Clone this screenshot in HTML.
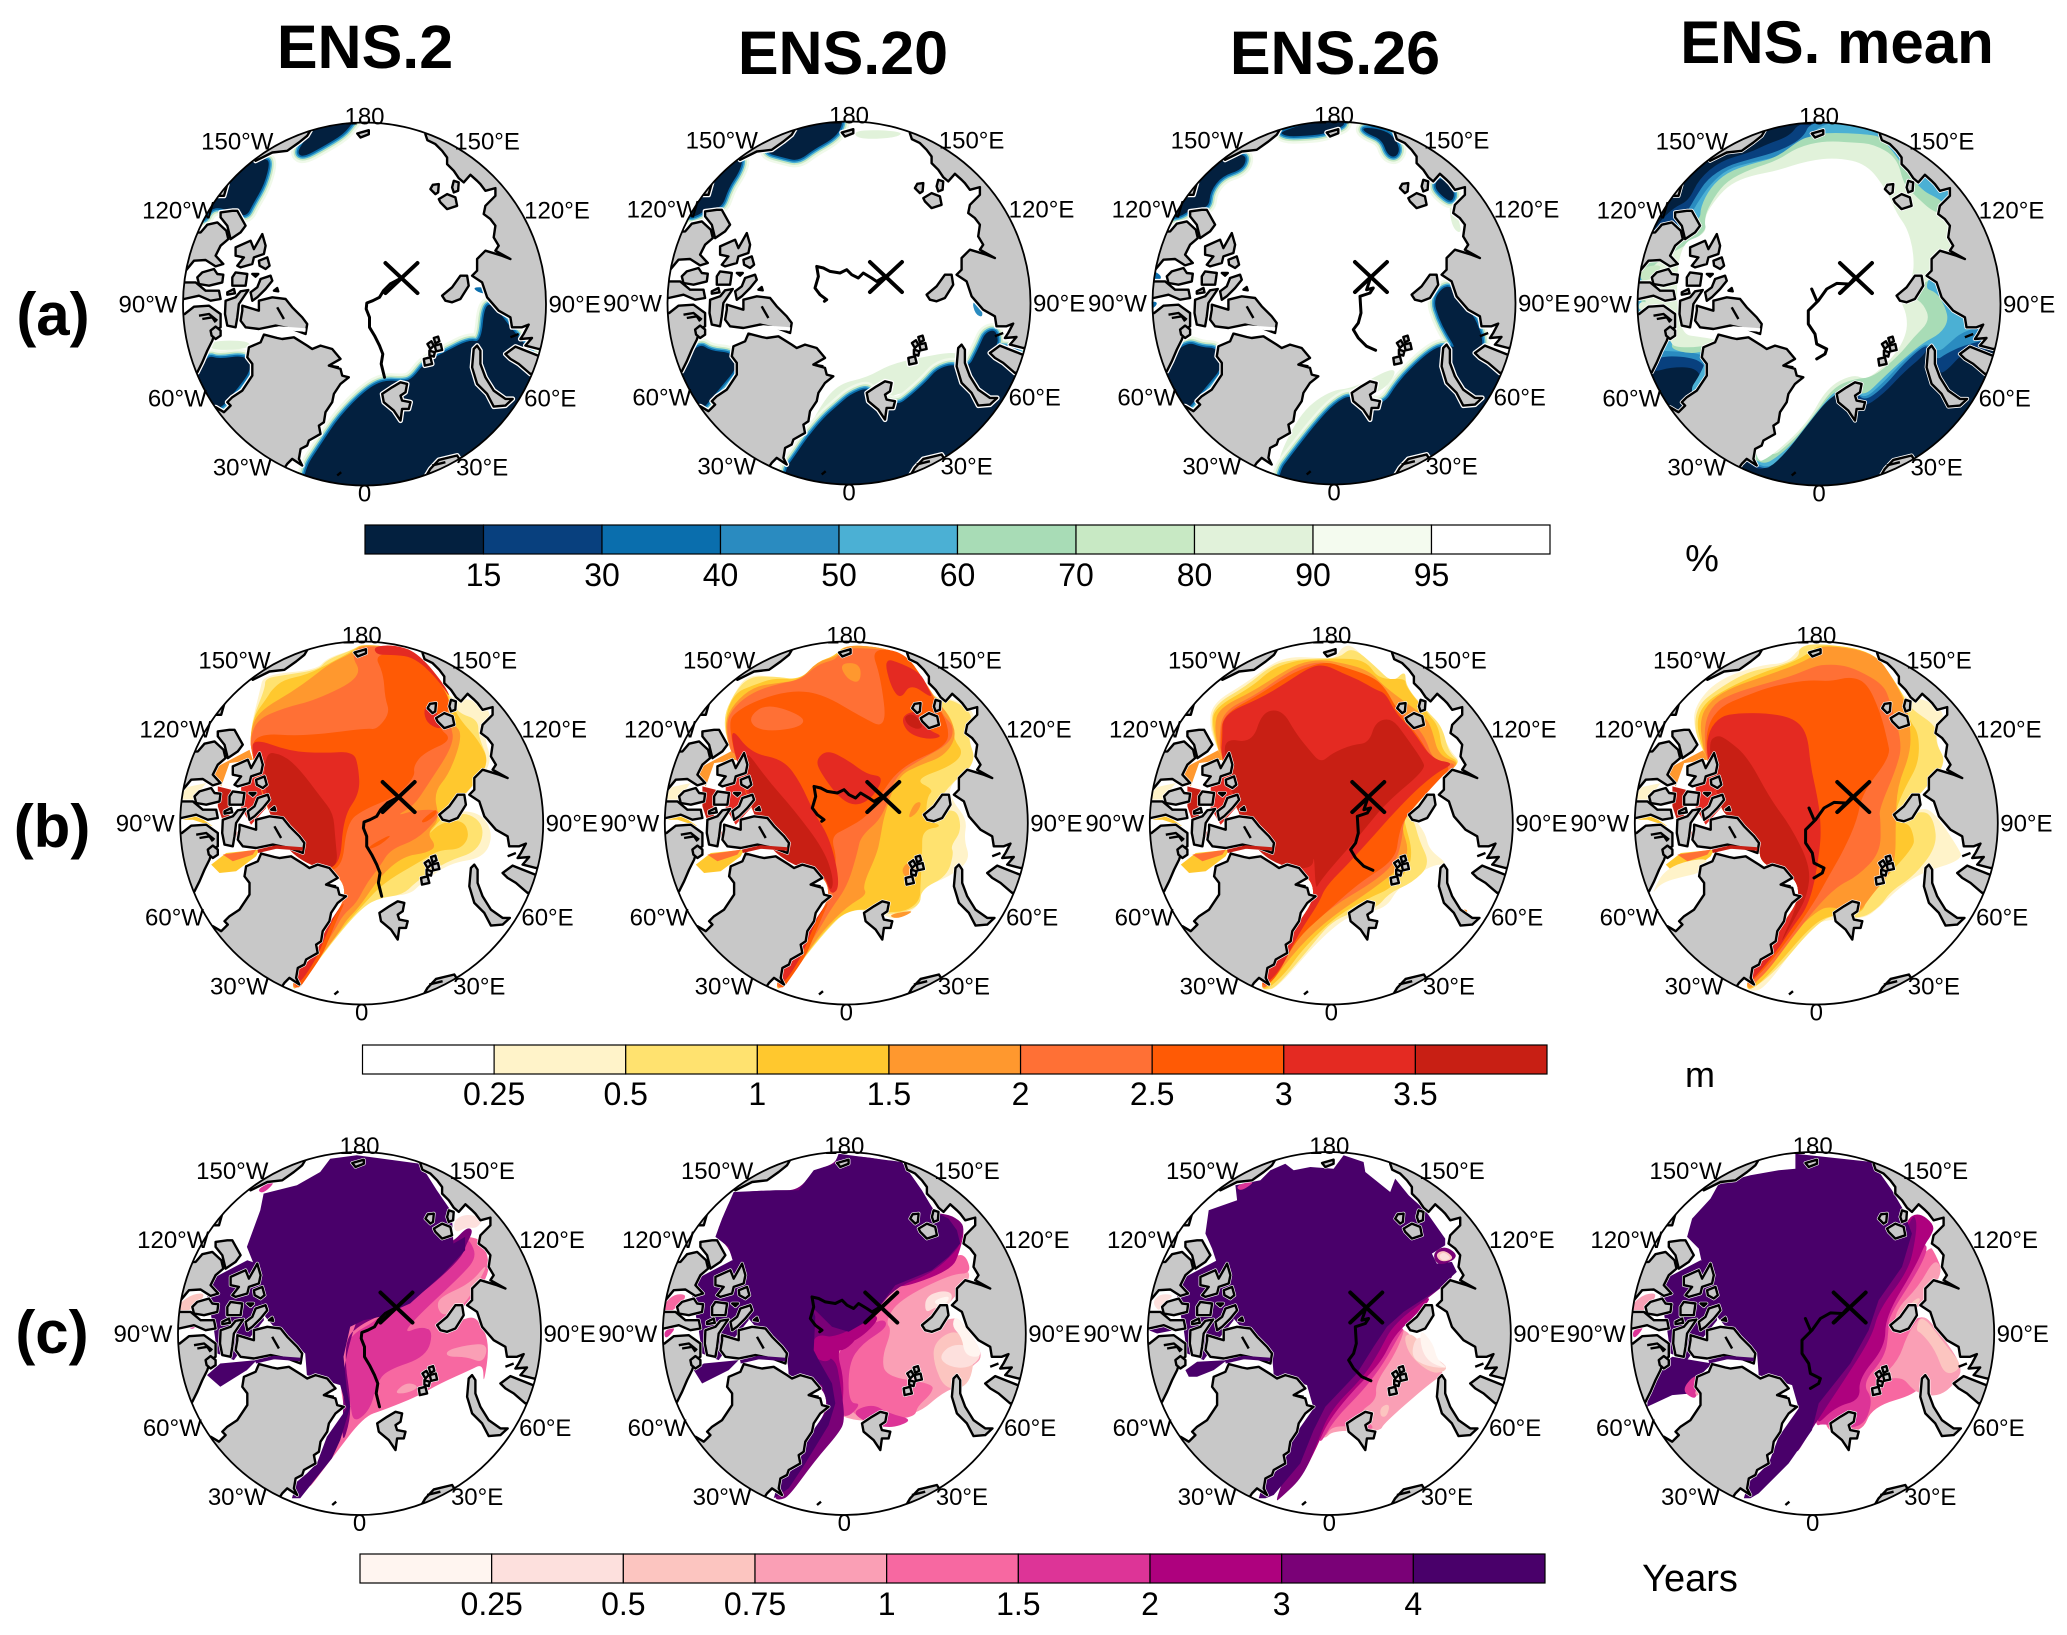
<!DOCTYPE html>
<html lang="en">
<head>
<meta charset="utf-8">
<title>Arctic sea ice ensemble maps</title>
<style>
html,body{margin:0;padding:0;background:#fff;}
svg{display:block;font-family:"Liberation Sans",Arial,sans-serif;}
</style>
</head>
<body>
<svg id="chart" xmlns="http://www.w3.org/2000/svg" width="2067" height="1635" viewBox="0 0 2067 1635">
<rect width="2067" height="1635" fill="#fff"/>
<text x="365" y="68" font-size="61" font-weight="700" text-anchor="middle">ENS.2</text>
<text x="843" y="74" font-size="61" font-weight="700" text-anchor="middle">ENS.20</text>
<text x="1335" y="74" font-size="61" font-weight="700" text-anchor="middle">ENS.26</text>
<text x="1837" y="63" font-size="60" font-weight="700" text-anchor="middle">ENS. mean</text>
<text x="53" y="335" font-size="60" font-weight="700" text-anchor="middle">(a)</text>
<text x="52" y="847" font-size="60" font-weight="700" text-anchor="middle">(b)</text>
<text x="52" y="1353" font-size="60" font-weight="700" text-anchor="middle">(c)</text>
<text x="1702" y="571" font-size="38" text-anchor="middle">%</text>
<text x="1700" y="1087" font-size="36" text-anchor="middle">m</text>
<text x="1690" y="1591" font-size="38" text-anchor="middle">Years</text>
<g id="panels"></g>
<g id="bars"></g>
</svg>
<script>
/* ---------- colour scales ---------- */
const iceTicks = ['15','30','40','50','60','70','80','90','95'];
const iceColors = ['#03203f','#08407e','#0a6ead','#2a8bc0','#4bb0d4','#a8dcb6','#c8e9c4','#e1f2da','#f4fbef','#ffffff'];
const thickTicks = ['0.25','0.5','1','1.5','2','2.5','3','3.5'];
const thickColors = ['#ffffff','#fff3c9','#ffe26f','#ffc82e','#ff982e','#ff7035','#ff5a05','#e42a22','#c81f14'];
const ageTicks = ['0.25','0.5','0.75','1','1.5','2','3','4'];
const ageColors = ['#fff5f0','#fde0dd','#fcc5c0','#fa9fb5','#f768a1','#dd3497','#ae017e','#7a0177','#49006a'];

/* ---------- longitude labels in map units ---------- */
const lonLabels = [['180',637,45],['150°W',255,120],['150°E',1005,120],['120°W',78,328],['120°E',1215,328],['90°W',-13,610],['90°E',1268,610],['60°W',75,893],['60°E',1195,893],['30°W',270,1100],['30°E',990,1100],['0',637,1178]];

/* ---------- geography in map units (disc centre 637,610; radius 545) ---------- */
const landPolys = [
 [[820,100],[826,118],[850,130],[870,150],[885,170],[885,190],[905,210],[920,232],[935,245],[955,222],[975,240],[985,250],[1000,270],[1030,262],[1030,285],[1000,315],[995,340],[1015,355],[1030,375],[1025,410],[1040,435],[1030,450],[1075,475],[1050,465],[1000,450],[975,475],[975,510],[960,525],[990,545],[1005,590],[1040,630],[1075,650],[1080,680],[1110,680],[1130,672],[1115,700],[1105,715],[1140,712],[1120,735],[1160,745],[1300,745],[1300,0],[820,0]],
 [[1060,760],[1090,738],[1120,750],[1158,765],[1300,790],[1135,820],[1100,790],[1075,775]],
 [[965,745],[975,735],[985,750],[985,790],[1000,830],[1025,870],[1060,895],[1082,895],[1060,915],[1025,918],[1005,880],[975,850],[960,800]],
 [[690,880],[720,860],[745,845],[765,850],[760,875],[745,885],[750,900],[775,905],[770,925],[750,925],[745,960],[725,930],[695,905]],
 [[826,730],[838,722],[845,735],[835,745]],
 [[845,712],[858,708],[862,722],[850,728]],
 [[848,735],[866,730],[870,748],[852,752]],
 [[832,750],[848,755],[845,768],[832,764]],
 [[815,775],[835,770],[840,790],[818,795]],
 [[870,585],[900,560],[925,525],[945,525],[950,555],[925,595],[900,605],[880,600]],
 [[860,250],[842,252],[835,265],[850,280],[858,275]],
 [[905,240],[920,245],[918,270],[905,275],[900,260]],
 [[860,295],[885,280],[910,290],[915,315],[885,325],[865,305]],
 [[615,98],[650,88],[650,100],[625,110]],
 [[475,88],[465,105],[440,125],[405,150],[360,155],[310,180],[200,50],[475,0]],
 [[225,250],[215,285],[190,285],[210,255]],
 [[205,335],[240,330],[255,330],[280,375],[265,395],[235,415],[225,375],[205,350]],
 [[145,395],[165,372],[195,365],[222,390],[228,415],[205,435],[190,465],[213,490],[190,497],[160,478],[125,480],[100,510],[0,510],[0,400]],
 [[95,545],[130,545],[160,570],[200,570],[205,595],[175,600],[140,585],[95,595],[0,600],[0,545]],
 [[135,530],[150,515],[185,505],[195,520],[213,522],[210,545],[170,555],[140,550]],
 [[97,640],[125,618],[170,615],[205,640],[205,680],[190,690],[180,720],[165,750],[150,785],[135,815],[0,815],[0,640]],
 [[175,690],[190,678],[205,690],[205,705],[190,715],[178,705]],
 [[250,440],[295,420],[305,445],[330,400],[340,435],[335,460],[305,470],[300,490],[265,500],[255,495],[275,470],[250,465]],
 [[320,480],[345,470],[352,495],[340,505],[322,495]],
 [[240,530],[250,515],[285,520],[280,555],[240,555]],
 [[300,520],[318,520],[310,528]],
 [[325,535],[355,525],[360,540],[340,565],[315,590],[300,600],[295,575],[315,560]],
 [[225,575],[245,565],[248,578],[225,582]],
 [[220,600],[250,590],[265,572],[288,568],[260,610],[255,650],[250,680],[225,675],[218,640]],
 [[365,570],[375,562],[378,572]],
 [[270,615],[320,630],[320,600],[360,590],[400,595],[420,620],[450,650],[465,670],[460,700],[420,685],[370,675],[320,685],[280,680],[265,660],[270,630]],
 [[290,740],[325,725],[335,702],[375,712],[390,715],[425,710],[465,735],[480,745],[505,735],[540,745],[565,775],[530,795],[565,805],[570,825],[590,830],[565,850],[545,880],[540,905],[520,935],[515,965],[500,975],[505,1000],[470,1020],[465,1035],[445,1045],[440,1075],[450,1095],[420,1075],[405,1090],[300,1250],[60,1100],[150,930],[190,920],[215,935],[235,915],[225,905],[240,890],[270,870],[300,825],[300,790],[285,770]],
 [[820,1130],[835,1105],[860,1078],[915,1065],[1000,1200],[830,1200]]
];
const coastLines = [[[140,645],[170,640],[195,660]],[[150,655],[180,650],[190,665]],[[375,620],[395,655]],[[1075,710],[1100,700]],[[555,1125],[567,1115]],[[530,795],[560,800]],[[840,1095],[880,1085]]];
const channelStripe = [[325,695],[380,682],[460,688]];
const westCoast = [[305,400],[345,560],[380,600],[465,670],[470,735],[570,765],[590,835],[530,920],[500,1000],[470,1030],[440,1055],[425,1105]];
const westShort = [[305,400],[345,560],[380,600],[465,670],[470,735],[570,765]];

/* ---------- buoy tracks ---------- */
const trackEns2 = [[748,532],[714,550],[702,562],[694,570],[682,590],[662,600],[644,607],[642,625],[652,650],[652,680],[667,705],[682,735],[692,760],[687,790],[697,830]];
const trackEns20 = [[745,530],[720,545],[705,535],[680,520],[665,535],[645,525],[630,510],[610,520],[580,515],[560,505],[540,500],[545,530],[535,565],[550,585],[570,600],[563,605]];
const trackEns26 = [[745,540],[735,570],[755,565],[745,580],[715,590],[718,640],[710,670],[695,690],[710,715],[735,740],[762,752]];
const trackMean = [[745,530],[705,575],[725,550],[690,548],[660,565],[635,600],[605,630],[605,670],[625,700],[630,730],[660,745],[655,760],[630,775]];
const trackMeanSpur = [[615,565],[630,600]];

/* ---------- contours: [colour level, outline] ---------- */
const contoursA1 = [
 [0,[[446,1300],[446,1120],[506,1028],[560,947],[640,866],[694,838],[754,843],[781,832],[815,786],[882,751],[949,717],[985,725],[996,607],[1029,619],[1070,676],[1110,722],[1144,768],[1300,900],[1300,1300]]],
 [0,[[332,175],[352,180],[335,250],[300,310],[278,353],[205,320],[172,325],[150,370],[80,300],[280,120]]],
 [0,[[479,60],[620,40],[600,65],[573,100],[506,140],[452,169],[432,157],[452,122],[479,88]]],
 [0,[[120,830],[164,763],[197,775],[278,763],[300,803],[238,884],[197,930],[150,920]]],
 [2,[[960,560],[1000,560],[1005,580],[975,575]]],
 [7,[[170,720],[290,720],[290,745],[170,750]]]
];
const contoursA2 = [
 [7,[[480,1060],[540,930],[600,850],[690,830],[760,790],[850,770],[960,750],[1000,780],[900,850],[700,900]]],
 [7,[[650,85],[800,90],[780,110],[660,115]]],
 [0,[[440,1300],[440,1110],[470,1070],[510,1010],[560,950],[600,915],[640,880],[690,860],[700,880],[780,915],[820,885],[870,840],[900,805],[945,790],[965,800],[1000,790],[1010,770],[1030,730],[1045,695],[1075,685],[1085,720],[1075,735],[1140,740],[1180,800],[1300,1000],[1300,1300]]],
 [3,[[1005,600],[1030,610],[1040,650],[1015,640]]],
 [0,[[470,88],[480,85],[620,40],[612,85],[585,115],[530,145],[485,180],[440,170],[385,155],[400,130]]],
 [0,[[318,178],[305,215],[275,260],[255,320],[215,320],[180,345],[150,350],[100,300],[230,200],[300,160]]],
 [0,[[185,725],[220,750],[285,755],[305,795],[250,860],[205,915],[190,930],[100,815]]]
];
const contoursA3 = [
 [7,[[450,1115],[530,940],[620,870],[700,860],[830,790],[800,860],[700,900],[560,1000]]],
 [7,[[980,300],[1010,350],[1020,400],[990,380]]],
 [0,[[465,1300],[465,1120],[510,1060],[580,970],[640,905],[690,880],[780,920],[830,840],[900,770],[950,735],[985,735],[1000,740],[975,700],[950,650],[935,600],[960,560],[990,555],[1020,600],[1060,650],[1085,720],[1075,760],[1140,790],[1300,900],[1300,1300]]],
 [0,[[470,90],[660,40],[672,70],[640,85],[600,100],[540,105],[490,105]]],
 [0,[[720,78],[780,85],[815,105],[835,145],[820,170],[795,160],[780,115],[730,95]]],
 [0,[[355,158],[375,170],[360,205],[300,225],[265,270],[260,320],[215,320],[170,350],[120,350],[230,200],[300,160]]],
 [0,[[935,255],[955,225],[1000,270],[990,305],[960,285]]],
 [0,[[190,720],[240,740],[285,740],[305,795],[250,860],[205,915],[190,930],[100,815]]],
 [2,[[90,505],[125,530],[90,548]]],
 [2,[[85,600],[110,605],[85,630]]]
];
const contoursA4 = [
 [1,[[415,1125],[470,1065],[530,1000],[590,930],[645,868],[700,860],[725,925],[790,880],[850,815],[910,765],[925,735],[955,820],[980,810],[1030,755],[1060,770],[1180,700],[1160,400],[800,40],[540,60],[510,105],[440,130],[390,155],[300,180],[235,235],[205,300],[160,320],[110,370],[30,500],[30,790],[100,815],[150,800],[220,800],[245,830],[210,880],[180,930],[300,1000]]],
 [3,[[425,1120],[480,1070],[550,985],[605,915],[650,875],[700,860],[730,905],[790,860],[850,790],[905,740],[925,735],[950,780],[975,760],[1040,730],[1180,700],[1160,400],[790,40],[570,60],[550,110],[480,150],[390,175],[320,195],[260,235],[225,290],[205,325],[170,370],[30,500],[30,770],[90,800],[115,765],[220,770],[260,800],[240,830],[200,900],[300,1000]]],
 [4,[[430,1115],[490,1065],[560,975],[615,905],[655,875],[700,858],[730,898],[790,845],[850,780],[905,735],[925,730],[955,755],[985,730],[1030,690],[1180,650],[1160,400],[770,40],[600,70],[570,110],[490,165],[390,185],[320,205],[270,250],[235,300],[215,335],[180,370],[30,500],[30,740],[110,750],[220,755],[260,770],[240,820],[200,880],[300,1000]]],
 [5,[[405,1110],[500,1050],[570,960],[625,890],[650,870],[700,855],[730,890],[790,830],[850,775],[910,725],[960,700],[985,660],[975,620],[950,575],[905,560],[1000,420],[990,330],[960,295],[895,265],[790,110],[740,100],[620,95],[580,105],[540,115],[470,170],[390,190],[320,215],[270,260],[240,320],[240,360],[60,480],[60,650],[160,720],[150,745],[210,760],[260,750],[300,900]]],
 [7,[[425,1095],[530,1010],[590,930],[640,860],[700,835],[760,830],[840,760],[880,710],[930,660],[910,610],[880,590],[880,560],[930,540],[1020,450],[1010,340],[945,340],[880,280],[850,250],[830,170],[760,130],[700,125],[610,120],[530,140],[470,180],[390,205],[320,240],[280,290],[250,350],[260,400],[70,500],[70,620],[150,720],[160,740],[240,740],[300,720]]],
 [9,[[450,1070],[560,970],[620,860],[700,820],[740,840],[820,770],[860,700],[860,640],[835,590],[880,530],[880,450],[860,380],[830,340],[800,270],[740,190],[650,170],[560,180],[470,210],[390,225],[330,250],[290,290],[250,350],[260,400],[170,430],[170,700],[250,710],[300,720],[400,800],[400,1090]]],
 [6,[[60,500],[130,490],[100,530],[60,545]]],
 [7,[[55,600],[100,610],[55,635]]]
];
const caaThick = [
 [4,[[205,440],[300,390],[310,420],[240,430],[215,500],[190,460]]],
 [7,[[275,465],[325,460],[350,500],[350,565],[305,615],[275,565]]],
 [8,[[205,500],[245,510],[240,590],[265,640],[255,665],[225,620],[205,560]]],
 [1,[[100,505],[170,490],[130,540],[100,540]]],
 [3,[[100,600],[140,585],[190,620],[130,600]]],
 [3,[[185,735],[230,700],[330,690],[320,710],[260,755],[210,760]]],
 [5,[[220,705],[320,690],[310,705],[250,725]]]
];
const tailStripMid = [[590,835],[565,890],[540,950],[515,1010],[470,1075],[445,1110],[430,1090],[440,1050],[470,1030],[500,1000],[530,920]];
const tailStripDark = [[590,835],[550,895],[525,955],[500,1015],[455,1085],[440,1085],[440,1050],[470,1030],[500,1000],[530,920]];
const contoursB1 = [
 [1,[[440,1110],[560,950],[640,860],[700,830],[780,825],[815,790],[900,730],[1000,715],[1030,650],[1000,585],[930,570],[880,600],[960,510],[1030,430],[1000,350],[1030,275],[960,235],[905,240],[880,190],[800,95],[640,70],[608,90],[530,115],[500,150],[340,165],[330,210],[300,330],...westCoast]],
 [2,[[440,1110],[560,950],[640,860],[690,835],[760,825],[800,785],[890,725],[985,695],[1005,620],[950,575],[880,600],[965,500],[1020,430],[985,350],[985,300],[925,280],[905,240],[880,190],[800,95],[640,70],[608,90],[530,120],[505,150],[410,165],[345,175],[345,205],[310,290],[300,360],...westCoast]],
 [3,[[445,1105],[560,945],[640,855],[700,790],[820,720],[870,690],[930,690],[960,650],[940,600],[870,610],[830,650],[870,600],[960,510],[1020,430],[985,360],[930,300],[905,250],[880,190],[800,95],[640,70],[605,95],[540,130],[470,165],[400,180],[365,210],[350,235],[310,290],[300,360],...westCoast]],
 [4,[[445,1100],[520,1000],[565,940],[590,900],[630,860],[690,770],[760,710],[830,700],[860,680],[830,640],[870,600],[850,520],[900,460],[940,340],[905,310],[880,190],[800,95],[640,70],[605,100],[540,130],[490,170],[420,220],[350,260],[310,300],[300,360],...westCoast]],
 [5,[[450,1105],[510,1000],[555,930],[580,885],[620,850],[650,790],[690,740],[720,690],[800,660],[860,600],[870,570],[800,570],[735,590],[790,560],[830,500],[915,370],[900,310],[880,190],[800,95],[650,75],[600,100],[640,170],[500,240],[400,265],[320,300],[300,360],...westCoast]],
 [6,tailStripMid],
 [7,tailStripDark],
 [6,[[320,340],[460,350],[650,325],[680,330],[720,280],[705,235],[700,160],[670,100],[800,100],[880,200],[905,260],[860,320],[910,360],[820,400],[790,440],[795,470],[740,530],[640,570],[590,610],[575,760],[480,740],[400,680],[350,560],[300,400]]],
 [6,[[810,605],[860,565],[860,585],[825,610]]],
 [6,[[655,680],[730,640],[700,670],[660,690]]],
 [7,[[310,355],[420,395],[520,400],[610,395],[625,440],[630,520],[580,590],[570,750],[480,740],[400,680],[350,560],[305,400]]],
 [7,[[670,80],[730,75],[800,95],[880,190],[905,240],[860,175],[790,110],[720,105],[680,105]]],
 [7,[[820,270],[840,250],[880,310],[870,330],[830,310]]],
 [8,[[340,395],[400,405],[450,450],[510,530],[550,580],[555,650],[565,750],[480,740],[400,680],[350,560]]]
];
const contoursB2 = [
 [1,[[440,1110],[560,950],[650,860],[760,890],[780,900],[860,860],[850,810],[950,770],[1010,720],[990,660],[1000,600],[960,550],[940,500],[1030,430],[1000,350],[1030,280],[960,235],[905,240],[870,180],[810,95],[640,70],[600,110],[550,125],[500,180],[420,170],[340,165],[300,220],[265,300],[290,400],...westCoast]],
 [2,[[440,1110],[560,950],[650,860],[770,890],[860,860],[860,810],[940,770],[960,700],[950,680],[985,630],[965,560],[880,600],[940,500],[1030,430],[1000,350],[1020,285],[960,240],[905,240],[870,180],[810,95],[640,70],[600,110],[550,125],[500,180],[420,170],[345,170],[300,220],[265,300],[290,400],...westCoast]],
 [3,[[445,1105],[560,945],[650,860],[790,885],[858,850],[860,790],[865,700],[865,630],[930,620],[875,600],[880,530],[900,510],[840,480],[950,440],[990,400],[960,360],[960,320],[945,285],[905,240],[870,180],[810,95],[640,70],[600,110],[550,125],[500,180],[420,175],[360,195],[300,220],[270,300],[290,400],...westCoast]],
 [4,[[445,1100],[520,1000],[565,935],[640,860],[700,825],[685,800],[730,700],[740,650],[750,590],[790,470],[860,435],[930,410],[970,350],[945,285],[910,245],[870,180],[810,95],[640,70],[610,110],[550,125],[500,180],[430,190],[360,200],[300,250],[270,310],[290,400],...westCoast]],
 [4,[[820,600],[840,550],[865,545],[850,580]]],
 [4,[[800,750],[830,720],[860,770],[820,780]]],
 [4,[[760,885],[850,870],[790,900]]],
 [5,[[450,1105],[510,1000],[555,930],[590,870],[640,800],[670,700],[680,650],[750,590],[780,470],[860,420],[950,370],[960,320],[930,290],[910,250],[870,180],[810,95],[700,85],[640,85],[610,110],[600,120],[550,135],[500,180],[440,190],[360,215],[300,260],[275,310],[290,400],...westCoast]],
 [4,[[615,130],[680,130],[680,190],[640,180]]],
 [6,tailStripMid],
 [6,[[590,810],[610,720],[590,650],[640,625],[700,590],[730,540],[800,440],[940,380],[945,320],[905,245],[870,180],[810,95],[710,85],[740,170],[760,330],[680,290],[570,225],[480,210],[370,240],[300,280],[285,310],[300,400],...westShort]],
 [5,[[345,290],[400,250],[510,290],[505,320],[420,335],[360,325]]],
 [7,[[290,320],[350,400],[450,420],[500,490],[540,580],[590,660],[620,800],[590,830],[570,760],[480,740],[400,680],[350,560],[300,400]]],
 [7,tailStripDark],
 [7,[[545,420],[580,390],[640,420],[700,465],[750,470],[720,530],[670,560],[620,540],[560,460]]],
 [7,[[750,115],[800,130],[860,160],[880,200],[900,240],[830,190],[800,240],[770,200]]],
 [7,[[800,290],[850,270],[880,330],[930,350],[880,360],[820,340]]],
 [8,[[320,370],[400,480],[480,570],[570,690],[600,780],[590,820],[570,760],[480,740],[400,680],[350,560]]],
 [8,[[810,290],[840,280],[870,320],[850,330],[820,315]]]
];
const contoursB3 = [
 [1,[[440,1115],[480,1100],[600,960],[700,880],[800,870],[840,800],[940,735],[990,735],[930,690],[920,640],[880,590],[900,560],[950,470],[1030,430],[990,390],[960,310],[920,270],[860,200],[860,150],[820,190],[760,140],[700,75],[670,80],[650,115],[600,115],[520,110],[460,130],[380,190],[280,250],[270,320],[300,400],...westCoast]],
 [2,[[445,1110],[470,1105],[560,1000],[650,890],[770,870],[810,820],[880,790],[935,735],[900,660],[885,600],[860,590],[950,470],[1030,430],[990,400],[970,320],[925,275],[860,200],[860,150],[820,190],[770,140],[700,80],[660,115],[600,115],[520,120],[460,135],[380,200],[285,255],[275,320],[300,400],...westCoast]],
 [3,[[445,1110],[500,1060],[550,990],[650,890],[760,830],[810,810],[870,750],[880,690],[860,620],[855,590],[960,470],[1030,430],[970,400],[960,320],[925,280],[860,200],[860,175],[780,180],[740,120],[650,115],[600,120],[540,120],[460,145],[400,200],[285,265],[280,320],[300,400],...westCoast]],
 [4,[[445,1105],[540,980],[640,890],[760,810],[850,740],[870,690],[850,630],[855,590],[950,480],[1030,430],[960,410],[940,330],[920,290],[800,205],[750,150],[650,125],[600,120],[540,130],[470,170],[400,215],[300,265],[285,320],[300,400],...westCoast]],
 [5,[[450,1100],[530,960],[640,860],[760,790],[830,730],[850,660],[855,590],[950,480],[1025,430],[945,430],[915,340],[840,270],[780,200],[730,170],[650,135],[600,125],[540,140],[480,175],[410,225],[310,275],[300,360],...westCoast]],
 [6,[[470,1080],[530,960],[620,880],[720,790],[830,720],[840,640],[860,590],[960,480],[1000,440],[945,430],[900,350],[840,280],[800,205],[760,170],[670,140],[620,125],[540,150],[480,185],[420,225],[310,285],[305,360],...westCoast]],
 [7,[[480,1060],[540,940],[600,850],[620,800],[700,720],[860,540],[950,460],[1010,430],[940,420],[880,330],[830,280],[800,220],[770,210],[720,180],[670,160],[620,135],[575,140],[500,190],[425,235],[310,285],[310,360],...westCoast]],
 [8,[[315,355],[400,370],[430,275],[490,270],[530,340],[570,390],[605,430],[640,400],[700,375],[750,370],[770,305],[820,295],[860,350],[910,420],[920,450],[800,550],[720,650],[640,740],[600,790],[590,810],[585,700],[580,750],[480,740],[400,680],[350,560],[320,430]]],
 [4,[[1030,870],[1045,870],[1045,880],[1030,880]]]
];
const contoursB4 = [
 [1,[[440,1115],[480,1110],[590,960],[640,900],[780,900],[830,860],[880,810],[950,760],[1080,720],[1060,680],[1000,590],[960,560],[880,600],[960,510],[1030,430],[990,360],[1030,280],[960,235],[905,240],[870,180],[810,95],[650,70],[590,80],[550,130],[470,135],[340,180],[270,260],[270,330],[300,400],...westCoast]],
 [1,[[140,830],[185,740],[320,710],[290,760],[240,770],[170,790]]],
 [2,[[445,1110],[520,1050],[620,930],[690,880],[770,900],[830,860],[860,815],[930,770],[1000,680],[990,600],[960,570],[880,600],[960,510],[1030,430],[995,370],[1000,320],[925,270],[905,240],[870,180],[810,95],[650,70],[585,80],[585,115],[520,140],[430,155],[330,215],[280,260],[270,330],[300,400],...westCoast]],
 [3,[[445,1110],[500,1060],[620,920],[680,885],[775,885],[790,830],[860,760],[930,680],[930,650],[915,610],[875,610],[875,570],[905,500],[945,430],[945,340],[915,300],[905,240],[870,180],[810,95],[650,70],[615,100],[560,130],[470,160],[370,205],[300,250],[275,310],[300,400],...westCoast]],
 [4,[[450,1105],[530,980],[640,870],[690,860],[760,890],[800,830],[860,760],[875,710],[875,610],[880,500],[920,400],[920,320],[905,250],[870,180],[810,95],[650,75],[640,100],[590,130],[480,170],[390,200],[320,240],[285,300],[300,400],...westCoast]],
 [5,[[480,1070],[560,960],[640,860],[700,800],[760,770],[830,700],[830,600],[825,570],[880,440],[895,370],[860,250],[840,195],[760,150],[710,135],[650,135],[620,145],[560,170],[470,195],[390,220],[330,250],[300,310],[305,400],...westCoast]],
 [6,[[490,1040],[560,950],[630,850],[680,760],[720,690],[760,600],[775,520],[860,410],[850,360],[830,280],[790,190],[740,170],[680,185],[610,180],[500,200],[420,230],[350,260],[310,315],...westCoast]],
 [7,[[515,1000],[560,930],[620,850],[650,680],[650,600],[640,530],[620,440],[610,340],[570,295],[490,280],[400,280],[350,290],[315,330],...westCoast]],
 [8,[[520,990],[570,900],[610,830],[620,740],[560,620],[500,540],[430,410],[370,360],[340,345],[310,370],[345,560],[380,600],[465,670],[470,735],[570,765],[590,835]]]
];
const caaAge = [
 [8,[[205,440],[300,390],[330,400],[350,570],[310,620],[260,690],[210,670],[200,600],[180,500]]]
];
const contoursC1 = [
 [4,[[450,1110],[545,985],[640,860],[700,840],[800,800],[870,760],[960,720],[1000,700],[1000,770],[1020,640],[985,565],[950,560],[870,605],[950,520],[1020,435],[1010,360],[985,320],[900,320],[640,520],[570,640],[570,780],[590,860]]],
 [3,[[760,625],[800,600],[840,590],[820,620],[770,630]]],
 [3,[[890,660],[950,645],[1015,640],[1000,700],[950,680],[890,680]]],
 [3,[[730,790],[770,755],[810,770],[770,790]]],
 [3,[[870,500],[960,460],[1010,400],[1000,430],[940,530],[880,560],[860,530]]],
 [5,[[610,880],[660,840],[680,760],[710,720],[830,680],[850,600],[810,590],[760,610],[800,560],[940,430],[980,380],[960,330],[935,320],[700,560],[590,620],[585,700],[600,820]]],
 [1,[[910,270],[950,250],[1000,265],[980,295],[950,290],[915,310]]],
 [7,[[575,950],[600,870],[600,800],[585,700],[590,620],[630,585],[680,560],[780,520],[930,390],[950,340],[970,300],[950,290],[905,340],[640,500],[580,700],[580,800]]],
 [8,[[450,1105],[545,985],[570,930],[600,830],[590,780],[580,680],[600,590],[640,570],[690,560],[780,520],[880,430],[945,360],[945,320],[910,340],[905,245],[860,180],[810,100],[620,75],[540,85],[510,125],[440,165],[340,190],[330,240],[290,350],[310,400],...westCoast]],
 [5,[[320,180],[350,160],[375,155],[340,190]]],
 [8,[[170,735],[210,700],[320,690],[290,720],[210,770]]],
 [2,[[85,520],[130,490],[170,490],[125,540],[85,545]]],
 [5,[[110,585],[150,580],[125,600]]]
];
const contoursC2 = [
 [3,[[650,880],[850,860],[940,780],[1005,765],[1010,715],[1060,680],[1000,590],[970,555],[880,600],[955,515],[1030,430],[960,400],[700,500],[550,800]]],
 [2,[[905,640],[960,600],[1000,620],[1030,680],[1010,770],[940,780],[905,700]]],
 [1,[[920,680],[960,640],[1030,650],[1050,680],[1010,715],[950,710]]],
 [0,[[970,555],[1000,590],[1060,680],[1000,680],[990,620],[960,590]]],
 [1,[[880,500],[930,480],[965,490],[950,530],[910,530],[880,550]]],
 [0,[[905,510],[955,495],[945,520],[915,525]]],
 [4,[[640,860],[770,870],[850,860],[855,830],[900,790],[905,760],[760,740],[750,680],[780,600],[760,575],[800,510],[960,430],[1020,430],[1000,370],[960,380],[800,460],[640,660]]],
 [5,[[640,870],[690,820],[650,820],[650,700],[690,640],[770,590],[750,560],[610,650],[600,820]]],
 [5,[[760,900],[850,870],[770,850],[720,820],[650,850]]],
 [6,[[620,900],[640,760],[610,650],[680,630],[750,560],[700,550],[560,600],[550,680],[600,800]]],
 [6,[[790,480],[960,420],[985,360],[1000,290],[960,255],[920,300],[800,440]]],
 [7,[[445,1110],[470,1100],[550,990],[620,910],[640,870],[625,760],[610,680],[540,680],[540,620],[620,620],[720,560],[790,470],[900,430],[975,360],[985,335],[1000,285],[960,255],[920,250],[905,240],[870,180],[810,95],[620,70],[608,100],[545,120],[500,180],[430,180],[305,185],[270,265],[250,320],[290,350],[305,400],...westCoast]],
 [6,[[540,680],[545,610],[620,625],[680,620],[640,660],[610,660],[590,700]]],
 [8,[[470,1075],[520,1000],[590,885],[610,820],[600,760],[560,690],[545,660],[550,560],[540,530],[600,590],[650,605],[710,570],[790,465],[900,420],[950,380],[985,340],[975,300],[950,265],[920,250],[905,240],[870,180],[810,95],[620,70],[608,100],[545,120],[500,180],[430,180],[305,185],[270,265],[250,320],[290,350],[305,400],...westCoast]],
 [8,[[185,720],[215,700],[320,690],[290,720],[210,760]]],
 [4,[[95,520],[130,490],[170,495],[120,545],[95,545]]],
 [5,[[95,600],[135,590],[100,630]]]
];
const contoursC3 = [
 [3,[[620,930],[650,900],[790,905],[800,880],[950,750],[990,730],[900,640],[860,590],[780,600],[600,900]]],
 [2,[[880,610],[900,625],[950,680],[1000,715],[950,735],[880,680],[860,620]]],
 [1,[[900,610],[950,650],[960,690],[1000,715],[930,710],[880,680]]],
 [0,[[905,590],[950,640],[960,690],[1000,720],[920,690]]],
 [2,[[790,830],[820,820],[810,860],[790,860]]],
 [4,[[620,930],[650,880],[790,905],[720,850],[780,810],[775,760],[830,680],[860,610],[860,590],[760,680],[620,860]]],
 [5,[[600,960],[650,870],[740,780],[800,700],[850,610],[865,590],[800,610],[620,820]]],
 [6,[[555,1040],[600,950],[630,880],[700,790],[790,700],[830,620],[870,580],[960,490],[860,530],[700,720],[580,850],[540,1000]]],
 [7,[[470,1120],[495,1100],[558,1040],[600,940],[640,840],[740,740],[790,660],[830,580],[965,480],[1020,430],[960,430],[700,700],[560,900]]],
 [8,[[445,1105],[470,1095],[550,1000],[590,900],[625,830],[720,730],[770,650],[810,590],[860,545],[960,480],[1020,425],[1005,395],[960,400],[945,370],[985,345],[985,325],[925,240],[875,195],[835,145],[820,185],[745,125],[740,95],[680,75],[650,115],[580,110],[530,120],[505,100],[460,120],[430,150],[355,165],[360,210],[275,240],[265,310],[285,355],[300,400],...westCoast]],
 [7,[[945,370],[985,345],[1030,380],[965,410]]],
 [2,[[955,372],[982,358],[1015,385],[972,397]]],
 [1,[[965,375],[982,365],[1005,385],[975,392]]],
 [5,[[355,165],[420,150],[370,185]]],
 [8,[[205,720],[240,695],[330,690],[290,720],[240,740],[215,740]]],
 [1,[[105,515],[130,490],[175,495],[135,520],[125,545]]],
 [8,[[95,600],[140,590],[170,600],[120,610]]]
];
const contoursC4 = [
 [4,[[650,910],[780,910],[810,830],[950,790],[960,740],[1010,800],[1060,760],[1085,710],[1000,590],[960,550],[880,605],[950,530],[1025,430],[1000,370],[980,340],[700,700]]],
 [3,[[830,750],[900,740],[925,770],[950,790],[1010,800],[1060,760],[1085,710],[1000,590],[960,550],[915,615],[890,690]]],
 [2,[[960,550],[1035,650],[1085,710],[1030,740],[1000,660],[960,610],[940,600]]],
 [3,[[880,540],[950,470],[1000,380],[1025,430],[950,530],[880,600]]],
 [2,[[890,560],[945,500],[960,510],[900,570]]],
 [5,[[640,890],[660,880],[780,900],[815,810],[780,760],[850,680],[860,600],[860,560],[950,420],[980,350],[960,340],[800,600],[640,800]]],
 [6,[[630,900],[700,830],[775,810],[770,745],[850,650],[850,560],[940,410],[970,340],[985,320],[1000,285],[950,245],[910,270],[850,460],[700,700]]],
 [7,[[560,1010],[640,880],[720,760],[810,620],[830,540],[920,420],[940,330],[945,270],[930,250],[860,450],[700,680]]],
 [8,[[445,1105],[470,1090],[560,1000],[630,900],[650,820],[745,700],[800,600],[830,510],[900,410],[930,310],[915,270],[905,240],[870,180],[810,95],[580,70],[580,115],[530,120],[445,135],[350,160],[325,205],[270,265],[255,320],[290,355],[300,400],...westCoast]],
 [8,[[135,830],[210,795],[270,790],[290,740],[330,700],[210,680],[140,740]]],
 [5,[[240,780],[270,740],[295,735],[285,800],[270,805]]],
 [3,[[275,790],[295,760],[290,800]]],
 [3,[[90,520],[130,490],[170,490],[125,545],[90,545]]],
 [5,[[90,600],[130,585],[95,630]]]
];

/* ---------- panels ---------- */
const panelConfig = [
 {name:'ice-ens-2',row:'a',cx:364.5,cy:304,dx:2,dy:0,contours:contoursA1,track:[trackEns2],colors:iceColors,rim:true,stripe:'#ffffff',halo:5},
 {name:'ice-ens-20',row:'a',cx:849,cy:303,dx:1,dy:4,contours:contoursA2,track:[trackEns20],colors:iceColors,rim:true,stripe:'#ffffff',halo:5},
 {name:'ice-ens-26',row:'a',cx:1334,cy:303,dx:1,dy:4,contours:contoursA3,track:[trackEns26],colors:iceColors,rim:true,stripe:'#ffffff',halo:5},
 {name:'ice-ens-mean',row:'a',cx:1819,cy:304,dx:41,dy:0,contours:contoursA4,track:[trackMean,trackMeanSpur],colors:iceColors,base:'#03203f',stripe:'#ffffff',halo:4},
 {name:'thickness-ens-2',row:'b',cx:361.7,cy:823,dx:2,dy:0,contours:contoursB1,under:caaThick,track:[trackEns2],colors:thickColors,stripe:'#c81f14',halo:3.6},
 {name:'thickness-ens-20',row:'b',cx:846.3,cy:823,dx:0,dy:0,contours:contoursB2,under:caaThick,track:[trackEns20],colors:thickColors,stripe:'#c81f14',halo:3.6},
 {name:'thickness-ens-26',row:'b',cx:1331.3,cy:823,dx:0,dy:0,contours:contoursB3,under:caaThick,track:[trackEns26],colors:thickColors,stripe:'#c81f14',halo:3.6},
 {name:'thickness-ens-mean',row:'b',cx:1816.3,cy:823,dx:0,dy:0,contours:contoursB4,under:caaThick,track:[trackMean,trackMeanSpur],colors:thickColors,stripe:'#c81f14',halo:3.6},
 {name:'age-ens-2',row:'c',cx:359.5,cy:1333.5,dx:9,dy:0,contours:contoursC1,under:caaAge,track:[trackEns2],colors:ageColors,stripe:'#49006a',halo:3.6},
 {name:'age-ens-20',row:'c',cx:844.3,cy:1333.5,dx:0,dy:0,contours:contoursC2,under:caaAge,track:[trackEns20],colors:ageColors,stripe:'#49006a',halo:3.6},
 {name:'age-ens-26',row:'c',cx:1329.3,cy:1333.5,dx:0,dy:0,contours:contoursC3,under:caaAge,track:[trackEns26],colors:ageColors,stripe:'#49006a',halo:3.6},
 {name:'age-ens-mean',row:'c',cx:1812.7,cy:1333.5,dx:5,dy:0,contours:contoursC4,under:caaAge,track:[trackMean,trackMeanSpur],colors:ageColors,stripe:'#49006a',halo:3.6}
];
const barConfig = [
 {name:'ice-concentration-colorbar',colors:iceColors,ticks:iceTicks,x0:365,x1:1550,y:525,h:29,base:586},
 {name:'ice-thickness-colorbar',colors:thickColors,ticks:thickTicks,x0:362.5,x1:1547,y:1045,h:29,base:1105},
 {name:'ice-age-colorbar',colors:ageColors,ticks:ageTicks,x0:360,x1:1545,y:1554,h:29,base:1615}
];

/* ---------- axis functions: map units to page pixels ---------- */
const NS = 'http://www.w3.org/2000/svg';
const MAP_R = 181.5, MAP_UNITS = 545, MAP_CU = 637, MAP_CV = 610;
function mapX(panel, u){ return panel.cx + (u - MAP_CU) * MAP_R / MAP_UNITS; }
function mapY(panel, v){ return panel.cy + (v - MAP_CV) * MAP_R / MAP_UNITS; }
function make(tag, attrs){
  const el = document.createElementNS(NS, tag);
  for (const k in attrs) el.setAttribute(k, attrs[k]);
  return el;
}
function straightPath(panel, pts, ox, oy, closed){
  let d = '';
  pts.forEach(function(p, i){
    d += (i ? 'L' : 'M') + mapX(panel, p[0] + ox).toFixed(1) + ' ' + mapY(panel, p[1] + oy).toFixed(1);
  });
  return d + (closed ? 'Z' : '');
}
function smoothPath(panel, pts, ox, oy){
  const q = pts.map(function(p){ return [mapX(panel, p[0] + ox), mapY(panel, p[1] + oy)]; });
  const n = q.length;
  const mid = function(a, b){ return [(a[0] + b[0]) / 2, (a[1] + b[1]) / 2]; };
  const s = mid(q[n - 1], q[0]);
  let d = 'M' + s[0].toFixed(1) + ' ' + s[1].toFixed(1);
  for (let i = 0; i < n; i++){
    const m = mid(q[i], q[(i + 1) % n]);
    d += 'Q' + q[i][0].toFixed(1) + ' ' + q[i][1].toFixed(1) + ' ' + m[0].toFixed(1) + ' ' + m[1].toFixed(1);
  }
  return d + 'Z';
}

const rimStyles = [[15,'#f0f9ea'],[10,'#c8e9c4'],[6.5,'#4bb0d4'],[3.5,'#0a6ead']];

function drawPanel(panel, idx){
  const root = make('g', {});
  
  
  const clipId = 'clip' + idx;
  const defs = make('defs', {});
  const clip = make('clipPath', {id: clipId});
  clip.appendChild(make('circle', {cx: panel.cx, cy: panel.cy, r: MAP_R}));
  defs.appendChild(clip);
  root.appendChild(defs);
  const body = make('g', {'clip-path': 'url(#' + clipId + ')'});
  const ocean = make('circle', {cx: panel.cx, cy: panel.cy, r: MAP_R, fill: panel.base || '#ffffff'});
  
  
  body.appendChild(ocean);

  (panel.under || []).forEach(function(item){
    const patch = make('path', {d: straightPath(panel, item[1], 0, 0, true), fill: panel.colors[item[0]]});
    
    
    body.appendChild(patch);
  });
  panel.contours.forEach(function(item){
    const lvl = item[0], pts = item[1];
    const straight = panel.row === 'c' && lvl === 8;
    const d = straight ? straightPath(panel, pts, panel.dx, panel.dy, true) : smoothPath(panel, pts, panel.dx, panel.dy);
    if (panel.rim && lvl === 0){
      rimStyles.forEach(function(rs){
        const rim = make('path', {d: d, fill: 'none', stroke: rs[1], 'stroke-width': rs[0], 'stroke-linejoin': 'round'});
        
        
        body.appendChild(rim);
      });
    }
    const shape = make('path', {d: d, fill: panel.colors[lvl]});
    
    
    body.appendChild(shape);
  });

  landPolys.forEach(function(poly){
    const halo = make('path', {d: straightPath(panel, poly, 0, 0, true), fill: '#fff', stroke: '#fff', 'stroke-width': panel.halo, 'stroke-linejoin': 'round'});
    
    
    body.appendChild(halo);
  });
  landPolys.forEach(function(poly){
    const land = make('path', {d: straightPath(panel, poly, 0, 0, true), fill: '#c8c8c8', stroke: '#000', 'stroke-width': 2.4, 'stroke-linejoin': 'round'});
    
    
    body.appendChild(land);
  });
  coastLines.forEach(function(line){
    const coast = make('path', {d: straightPath(panel, line, 0, 0, false), fill: 'none', stroke: '#000', 'stroke-width': 2.4});
    
    
    body.appendChild(coast);
  });
  const stripe = make('path', {d: straightPath(panel, channelStripe, 0, 0, false), fill: 'none', stroke: panel.stripe, 'stroke-width': 3.5});
  
  
  body.appendChild(stripe);
  root.appendChild(body);

  panel.track.forEach(function(line){
    const tr = make('path', {d: straightPath(panel, line, 0, 0, false), fill: 'none', stroke: '#000', 'stroke-width': 3, 'stroke-linejoin': 'round', 'stroke-linecap': 'round'});
    
    
    root.appendChild(tr);
  });
  const X = mapX(panel, 748), Y = mapY(panel, 532), H = 16;
  const cross = make('path', {d: 'M' + (X - H) + ' ' + (Y - 15) + 'L' + (X + H) + ' ' + (Y + 15) + 'M' + (X + H) + ' ' + (Y - 15) + 'L' + (X - H) + ' ' + (Y + 15), stroke: '#000', 'stroke-width': 4, fill: 'none', 'stroke-linecap': 'round'});
  
  
  root.appendChild(cross);

  const ring = make('circle', {cx: panel.cx, cy: panel.cy, r: MAP_R, fill: 'none', stroke: '#000', 'stroke-width': 1.8});
  
  
  root.appendChild(ring);

  lonLabels.forEach(function(l){
    const t = make('text', {x: mapX(panel, l[1]).toFixed(1), y: (mapY(panel, l[2]) + 8.5).toFixed(1), 'font-size': 24, 'text-anchor': 'middle', fill: '#000'});
    t.textContent = l[0];
    
    
    root.appendChild(t);
  });
  document.getElementById('panels').appendChild(root);
}

function drawBar(bar){
  const g = make('g', {});
  
  
  const w = (bar.x1 - bar.x0) / bar.colors.length;
  bar.colors.forEach(function(col, i){
    const r = make('rect', {x: bar.x0 + i * w, y: bar.y, width: w, height: bar.h, fill: col, stroke: '#000', 'stroke-width': 1.2});
    
    
    g.appendChild(r);
  });
  bar.ticks.forEach(function(lbl, i){
    const t = make('text', {x: bar.x0 + (i + 1) * w, y: bar.base, 'font-size': 32, 'text-anchor': 'middle', fill: '#000'});
    t.textContent = lbl;
    
    
    g.appendChild(t);
  });
  document.getElementById('bars').appendChild(g);
}

panelConfig.forEach(drawPanel);
barConfig.forEach(drawBar);
</script>
</body>
</html>
